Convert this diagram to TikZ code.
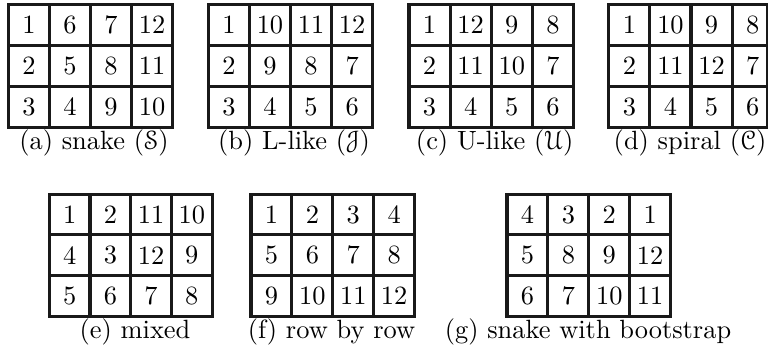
\documentclass[tikz,border=0pt]{standalone}
\usepackage[mathcal]{eucal}
\begin{document}
\tikzset{
  gridline/.style={line width=1.15pt, draw=black!90},
  num/.style={inner sep=0pt, font=\normalsize},
  captext/.style={anchor=base, inner sep=0pt, font=\normalsize},
}
% #1 name, #2 x0, #3 y0, #4 cell w, #5 cell h, #6 right edge, #7 numbers
\newcommand\mygrid[7]{%
  \draw[gridline] (#2,#3) rectangle (#6,{#3+3*#5});
  \foreach \k in {1,2,3} {\draw[gridline] ({#2+\k*#4},#3) -- ({#2+\k*#4},{#3+3*#5});}
  \foreach \k in {1,2} {\draw[gridline] (#2,{#3+\k*#5}) -- (#6,{#3+\k*#5});}
  \foreach \v [count=\i from 0] in {#7} {
    \pgfmathtruncatemacro\rr{int(\i/4)}
    \pgfmathtruncatemacro\cc{mod(\i,4)}
    \node[num] (#1-\rr-\cc) at ({#2+(\cc+0.5)*#4},{#3+(\rr+0.5)*#5}) {\v};
  }
}
\begin{tikzpicture}[x=0.3788pt, y=-0.3788pt]
\useasboundingbox (0,0) rectangle (768,353);
\mygrid{a}{8.3}{4.3}{41.1}{41.1}{172.7}{1,6,7,12,2,5,8,11,3,4,9,10}
\mygrid{b}{208.3}{4.3}{41.1}{41.1}{372.7}{1,10,11,12,2,9,8,7,3,4,5,6}
\mygrid{c}{409}{4.3}{41.1}{41.1}{573.4}{1,12,9,8,2,11,10,7,3,4,5,6}
\mygrid{d}{608.8}{4.3}{41.1}{41.1}{767.5}{1,10,9,8,2,11,12,7,3,4,5,6}
\mygrid{e}{49.3}{194.3}{40.7}{40.6}{212.1}{1,2,11,10,4,3,12,9,5,6,7,8}
\mygrid{f}{251}{194.3}{40.9}{40.6}{414.6}{1,2,3,4,5,6,7,8,9,10,11,12}
\mygrid{g}{507}{194.3}{40.9}{40.6}{670.6}{4,3,2,1,5,8,9,12,6,7,10,11}
\node[captext] (capa) at (94,149) {(a) snake ($\mathcal{S}$)};
\node[captext] (capb) at (294,149) {(b) L-like ($\mathcal{J}$)};
\node[captext] (capc) at (494.7,149) {(c) U-like ($\mathcal{U}$)};
\node[captext] (capd) at (690,149) {(d) spiral ($\mathcal{C}$)};
\node[captext] (cape) at (135,338.5) {(e) mixed};
\node[captext] (capf) at (331.5,338.5) {(f) row by row};
\node[captext] (capg) at (588,338.5) {(g) snake with bootstrap};
\end{tikzpicture}
\end{document}
